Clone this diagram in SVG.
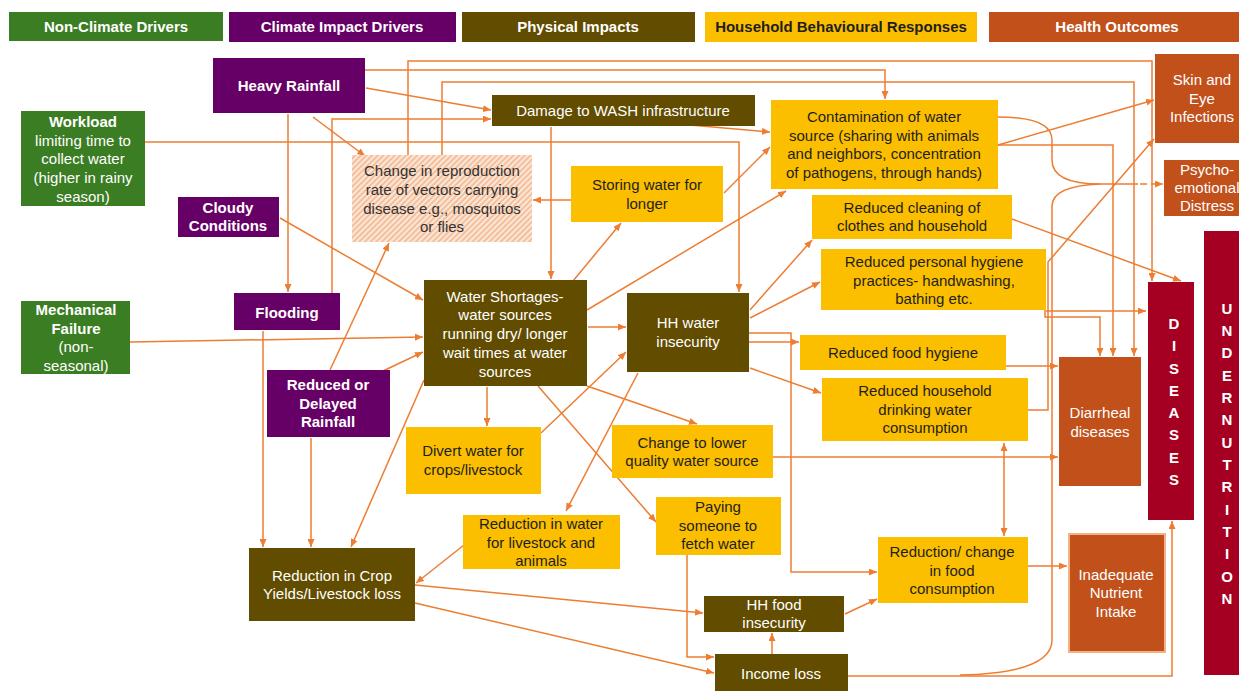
<svg xmlns="http://www.w3.org/2000/svg" width="1239" height="691" viewBox="0 0 1239 691">
<style>
text{font-family:"Liberation Sans",Arial,sans-serif;font-size:15px;text-anchor:middle}
.w{fill:#ffffff}
.d{fill:#1e1e1e}
.b{font-weight:bold}
.g{fill:#3B7D23}
.p{fill:#660066}
.br{fill:#614C00}
.y{fill:#FBBF00}
.o{fill:#C1501B}
.r{fill:#A50021}
.c path{fill:none;stroke:#ED7D31;stroke-width:1.5;marker-end:url(#ah)}
.lt{font-weight:bold;font-size:15px}
</style>
<defs>
<marker id="ah" viewBox="0 0 8 7" refX="8" refY="3.5" markerWidth="8" markerHeight="7" markerUnits="userSpaceOnUse" orient="auto-start-reverse"><path d="M0,0 L8,3.5 L0,7 z" fill="#ED7D31"/></marker>
<pattern id="hatch" width="4" height="4" patternUnits="userSpaceOnUse" patternTransform="rotate(45)"><rect width="4" height="4" fill="#FCE6D8"/><line x1="1" y1="0" x2="1" y2="4" stroke="#F2B58C" stroke-width="1.6"/></pattern>
</defs>
<rect width="1239" height="691" fill="#ffffff"/>

<g id="legend">
<rect class="g" x="9" y="12" width="214" height="29"/><text class="w b" x="116" y="32">Non-Climate Drivers</text>
<rect class="p" x="229" y="12" width="227" height="30"/><text class="w b" x="342" y="32">Climate Impact Drivers</text>
<rect class="br" x="462" y="12" width="233" height="30"/><text class="w b" x="578" y="32">Physical Impacts</text>
<rect class="y" x="705" y="12" width="272" height="30"/><text class="d b" x="841" y="32">Household Behavioural Responses</text>
<rect class="o" x="989" y="12" width="250" height="30"/><text class="w b" x="1117" y="32">Health Outcomes</text>
</g>

<g id="connectors" class="c">
<path d="M408,155 V61 H1152 V281"/>
<path d="M365,70 H885 V99"/>
<path d="M442,155 V82 H1134 V356"/>
<path d="M366,88 L491,110"/>
<path d="M332,293 V119 H491"/>
<path d="M145,142 H739 V292"/>
<path d="M313,117 L365,156"/>
<path d="M288,114 V292"/>
<path d="M280,218 L423,300"/>
<path d="M130,342 L423,337"/>
<path d="M383,371 L423,352"/>
<path d="M330,370 L389,243"/>
<path d="M263,331 V547"/>
<path d="M311,438 V547"/>
<path d="M424,380 L351,547"/>
<path d="M551,127 V279"/>
<path d="M690,125 L770,132"/>
<path d="M571,200 H533"/>
<path d="M724,193 L770,147"/>
<path d="M573,281 L621,223"/>
<path d="M587,310 L786,191"/>
<path d="M588,327 H626"/>
<path d="M487,387 V426"/>
<path d="M587,386 L697,424"/>
<path d="M538,386 L656,522"/>
<path d="M541,433 L626,352"/>
<path d="M638,373 L566,511"/>
<path d="M464,545 L416,583"/>
<path d="M415,585 L703,613"/>
<path d="M415,603 L714,673"/>
<path d="M687,555 V657 H714"/>
<path d="M772,654 V633"/>
<path d="M845,614 L877,599"/>
<path d="M749,333 H791 V572 H877"/>
<path d="M749,342 H799"/>
<path d="M750,368 L821,393"/>
<path d="M750,318 L820,282"/>
<path d="M750,310 L812,240"/>
<path d="M773,457 H1058"/>
<path d="M1004,443 V536" style="marker-start:url(#ah)"/>
<path d="M1028,566 H1067"/>
<path d="M848,676 H1172 V521"/>
<path d="M960,675 Q1052,673 1052,640 V206 Q1052,186 1100,184 H1138" style="marker-end:none"/>
<path d="M998,117 Q1052,117 1052,140 V160 Q1052,184 1100,184" style="marker-end:none"/>
<path d="M1140,184 H1163" style="stroke-dasharray:7 4"/>
<path d="M998,145 L1154,100"/>
<path d="M998,145 H1113 V356"/>
<path d="M1012,219 L1181,281"/>
<path d="M1028,410 H1048 V262 L1154,139"/>
<path d="M1046,311 H1146"/>
<path d="M1045,275 V317 H1100 V356"/>
<path d="M1006,366 H1058"/>
</g>

<g id="heavy-rainfall"><rect class="p" x="213" y="58" width="152" height="55"/><text class="w b" x="289" y="91">Heavy Rainfall</text></g>
<g id="workload"><rect class="g" x="21" y="111" width="124" height="95"/><text class="w" x="83"><tspan x="83" y="127" class="b">Workload</tspan><tspan x="83" y="146">limiting time to</tspan><tspan x="83" y="164">collect water</tspan><tspan x="83" y="183">(higher in rainy</tspan><tspan x="83" y="202">season)</tspan></text></g>
<g id="cloudy"><rect class="p" x="178" y="197" width="101" height="40"/><text class="w b"><tspan x="228" y="213">Cloudy</tspan><tspan x="228" y="231">Conditions</tspan></text></g>
<g id="vectors"><rect x="352" y="155" width="180" height="87" fill="url(#hatch)"/><text fill="#333333"><tspan x="442" y="176">Change in reproduction</tspan><tspan x="442" y="195">rate of vectors carrying</tspan><tspan x="442" y="214">disease e.g., mosquitos</tspan><tspan x="442" y="232">or flies</tspan></text></g>
<g id="wash-damage"><rect class="br" x="492" y="95" width="263" height="31"/><text class="w" x="623" y="116">Damage to WASH infrastructure</text></g>
<g id="contamination"><rect class="y" x="771" y="100" width="227" height="89"/><text class="d"><tspan x="884" y="122">Contamination of water</tspan><tspan x="884" y="141">source (sharing with animals</tspan><tspan x="884" y="159">and neighbors, concentration</tspan><tspan x="884" y="178">of pathogens, through hands)</tspan></text></g>
<g id="skin-eye"><rect class="o" x="1155" y="54" width="95" height="89"/><text class="w"><tspan x="1202" y="85">Skin and</tspan><tspan x="1202" y="104">Eye</tspan><tspan x="1202" y="122">Infections</tspan></text></g>
<g id="psycho"><rect class="o" x="1164" y="160" width="90" height="56"/><text class="w"><tspan x="1207" y="175">Psycho-</tspan><tspan x="1207" y="193">emotional</tspan><tspan x="1207" y="211">Distress</tspan></text></g>
<g id="storing"><rect class="y" x="571" y="166" width="152" height="56"/><text class="d"><tspan x="647" y="190">Storing water for</tspan><tspan x="647" y="209">longer</tspan></text></g>
<g id="cleaning"><rect class="y" x="812" y="195" width="200" height="44"/><text class="d"><tspan x="912" y="213">Reduced cleaning of</tspan><tspan x="912" y="231">clothes and household</tspan></text></g>
<g id="personal-hygiene"><rect class="y" x="821" y="249" width="225" height="61"/><text class="d"><tspan x="934" y="267">Reduced personal hygiene</tspan><tspan x="934" y="286">practices- handwashing,</tspan><tspan x="934" y="304">bathing etc.</tspan></text></g>
<g id="flooding"><rect class="p" x="234" y="293" width="106" height="37"/><text class="w b" x="287" y="318">Flooding</text></g>
<g id="mechanical"><rect class="g" x="21" y="301" width="109" height="73"/><text class="w"><tspan x="76" y="315" class="b">Mechanical</tspan><tspan x="76" y="334" class="b">Failure</tspan><tspan x="76" y="352">(non-</tspan><tspan x="76" y="371">seasonal)</tspan></text></g>
<g id="water-shortages"><rect class="br" x="424" y="280" width="163" height="106"/><text class="w"><tspan x="505" y="302">Water Shortages-</tspan><tspan x="505" y="320">water sources</tspan><tspan x="505" y="339">running dry/ longer</tspan><tspan x="505" y="358">wait times at water</tspan><tspan x="505" y="377">sources</tspan></text></g>
<g id="hh-water"><rect class="br" x="627" y="293" width="122" height="79"/><text class="w"><tspan x="688" y="328">HH water</tspan><tspan x="688" y="347">insecurity</tspan></text></g>
<g id="food-hygiene"><rect class="y" x="800" y="335" width="206" height="35"/><text class="d" x="903" y="358">Reduced food hygiene</text></g>
<g id="drinking"><rect class="y" x="822" y="378" width="206" height="63"/><text class="d"><tspan x="925" y="396">Reduced household</tspan><tspan x="925" y="415">drinking water</tspan><tspan x="925" y="433">consumption</tspan></text></g>
<g id="diarrheal"><rect class="o" x="1059" y="357" width="82" height="129"/><text class="w"><tspan x="1100" y="418">Diarrheal</tspan><tspan x="1100" y="437">diseases</tspan></text></g>
<g id="diseases"><rect class="r" x="1148" y="282" width="46" height="238"/><text class="w lt"><tspan x="1174" y="329">D</tspan><tspan x="1174" y="351">I</tspan><tspan x="1174" y="374">S</tspan><tspan x="1174" y="396">E</tspan><tspan x="1174" y="418">A</tspan><tspan x="1174" y="440">S</tspan><tspan x="1174" y="463">E</tspan><tspan x="1174" y="485">S</tspan></text></g>
<g id="undernutrition"><rect class="r" x="1204" y="231" width="50" height="444"/><text class="w lt"><tspan x="1227" y="314">U</tspan><tspan x="1227" y="336">N</tspan><tspan x="1227" y="358">D</tspan><tspan x="1227" y="381">E</tspan><tspan x="1227" y="403">R</tspan><tspan x="1227" y="425">N</tspan><tspan x="1227" y="448">U</tspan><tspan x="1227" y="470">T</tspan><tspan x="1227" y="492">R</tspan><tspan x="1227" y="515">I</tspan><tspan x="1227" y="537">T</tspan><tspan x="1227" y="559">I</tspan><tspan x="1227" y="582">O</tspan><tspan x="1227" y="604">N</tspan></text></g>
<g id="reduced-rainfall"><rect class="p" x="267" y="370" width="123" height="67"/><text class="w b"><tspan x="328" y="390">Reduced or</tspan><tspan x="328" y="409">Delayed</tspan><tspan x="328" y="427">Rainfall</tspan></text></g>
<g id="divert"><rect class="y" x="406" y="427" width="135" height="67"/><text class="d"><tspan x="473" y="456">Divert water for</tspan><tspan x="473" y="475">crops/livestock</tspan></text></g>
<g id="lower-quality"><rect class="y" x="612" y="425" width="161" height="53"/><text class="d"><tspan x="692" y="448">Change to lower</tspan><tspan x="692" y="466">quality water source</tspan></text></g>
<g id="paying"><rect class="y" x="656" y="497" width="125" height="58"/><text class="d"><tspan x="718" y="512">Paying</tspan><tspan x="718" y="531">someone to</tspan><tspan x="718" y="549">fetch water</tspan></text></g>
<g id="livestock-water"><rect class="y" x="463" y="515" width="157" height="54"/><text class="d"><tspan x="541" y="529">Reduction in water</tspan><tspan x="541" y="548">for livestock and</tspan><tspan x="541" y="566">animals</tspan></text></g>
<g id="crop-yields"><rect class="br" x="249" y="548" width="166" height="73"/><text class="w"><tspan x="332" y="581">Reduction in Crop</tspan><tspan x="332" y="599">Yields/Livestock loss</tspan></text></g>
<g id="food-consumption"><rect class="y" x="878" y="537" width="150" height="66"/><text class="d"><tspan x="952" y="557">Reduction/ change</tspan><tspan x="952" y="576">in food</tspan><tspan x="952" y="594">consumption</tspan></text></g>
<g id="nutrient"><rect class="o" x="1069" y="534" width="96" height="118" stroke="#F4B183" stroke-width="2"/><text class="w"><tspan x="1116" y="580">Inadequate</tspan><tspan x="1116" y="598">Nutrient</tspan><tspan x="1116" y="617">Intake</tspan></text></g>
<g id="hh-food"><rect class="br" x="704" y="596" width="140" height="36"/><text class="w"><tspan x="774" y="610">HH food</tspan><tspan x="774" y="628">insecurity</tspan></text></g>
<g id="income-loss"><rect class="br" x="715" y="654" width="133" height="40"/><text class="w" x="781" y="679">Income loss</text></g>
</svg>
